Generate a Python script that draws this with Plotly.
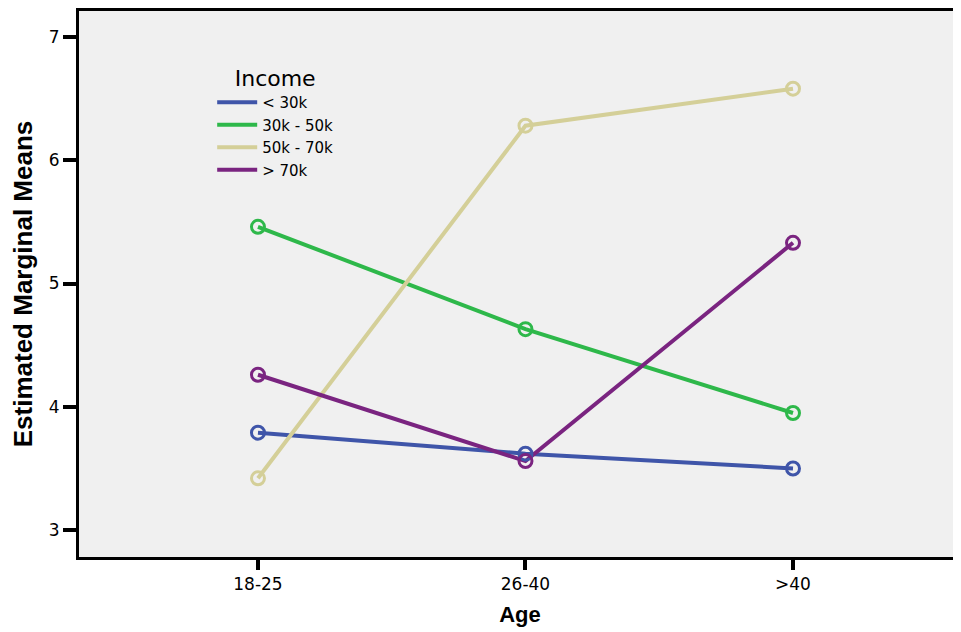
import plotly.graph_objects as go

ages = ["18-25", "26-40", ">40"]
income_groups = ["< 30k", "30k - 50k", "50k - 70k", "> 70k"]
means_lt30 = [3.79, 3.62, 3.50]
means_30_50 = [5.46, 4.63, 3.95]
means_50_70 = [3.42, 6.28, 6.58]
means_gt70 = [4.26, 3.56, 5.33]
colors = ["#3F55A9", "#2EB84A", "#D4CF98", "#7A2480"]

series = [means_lt30, means_30_50, means_50_70, means_gt70]
xpos = list(range(len(ages)))

fig = go.Figure()
for name, vals, col in zip(income_groups, series, colors):
    fig.add_trace(go.Scatter(
        x=xpos, y=vals, name=name, mode="lines",
        line=dict(color=col, width=4),
    ))
for name, vals, col in zip(income_groups, series, colors):
    fig.add_trace(go.Scatter(
        x=xpos, y=vals, name=name, mode="markers", showlegend=False,
        marker=dict(symbol="circle-open", size=13, color=col, line=dict(width=3, color=col)),
    ))

# page body has an 8px margin: figure is sized/offset to compensate
fig.update_layout(
    width=953, height=624,
    margin=dict(l=71, r=0, t=1, b=75),
    paper_bgcolor="white", plot_bgcolor="#F0F0F0",
    font=dict(family="DejaVu Sans, Liberation Sans, sans-serif", color="black", size=16),
    showlegend=True,
    legend=dict(
        x=0.151, y=0.915, xanchor="left", yanchor="top",
        bgcolor="rgba(0,0,0,0)",
        title=dict(text="Income", side="top center", font=dict(size=22)),
        font=dict(size=15),
        itemwidth=40,
    ),
    xaxis=dict(
        range=[-0.669, 2.628], tickmode="array", tickvals=xpos, ticktext=ages,
        showgrid=False, zeroline=False, showline=True, linecolor="black", linewidth=3,
        mirror=True, ticks="outside", ticklen=10, tickwidth=4, tickcolor="black",
        tickfont=dict(size=17),
        title=dict(text="<b>Age</b>", font=dict(size=22, family="Liberation Sans, Arial, sans-serif"), standoff=14),
    ),
    yaxis=dict(
        range=[2.782, 7.21], tickvals=[3, 4, 5, 6, 7],
        showgrid=False, zeroline=False, showline=True, linecolor="black", linewidth=3,
        ticks="outside", ticklen=13, tickwidth=4, tickcolor="black",
        tickfont=dict(size=17),
        title=dict(text="<b>Estimated Marginal Means</b>",
                   font=dict(size=26, family="Liberation Sans, Arial, sans-serif"),
                   standoff=10),
    ),
)

fig.write_html("out.html")
